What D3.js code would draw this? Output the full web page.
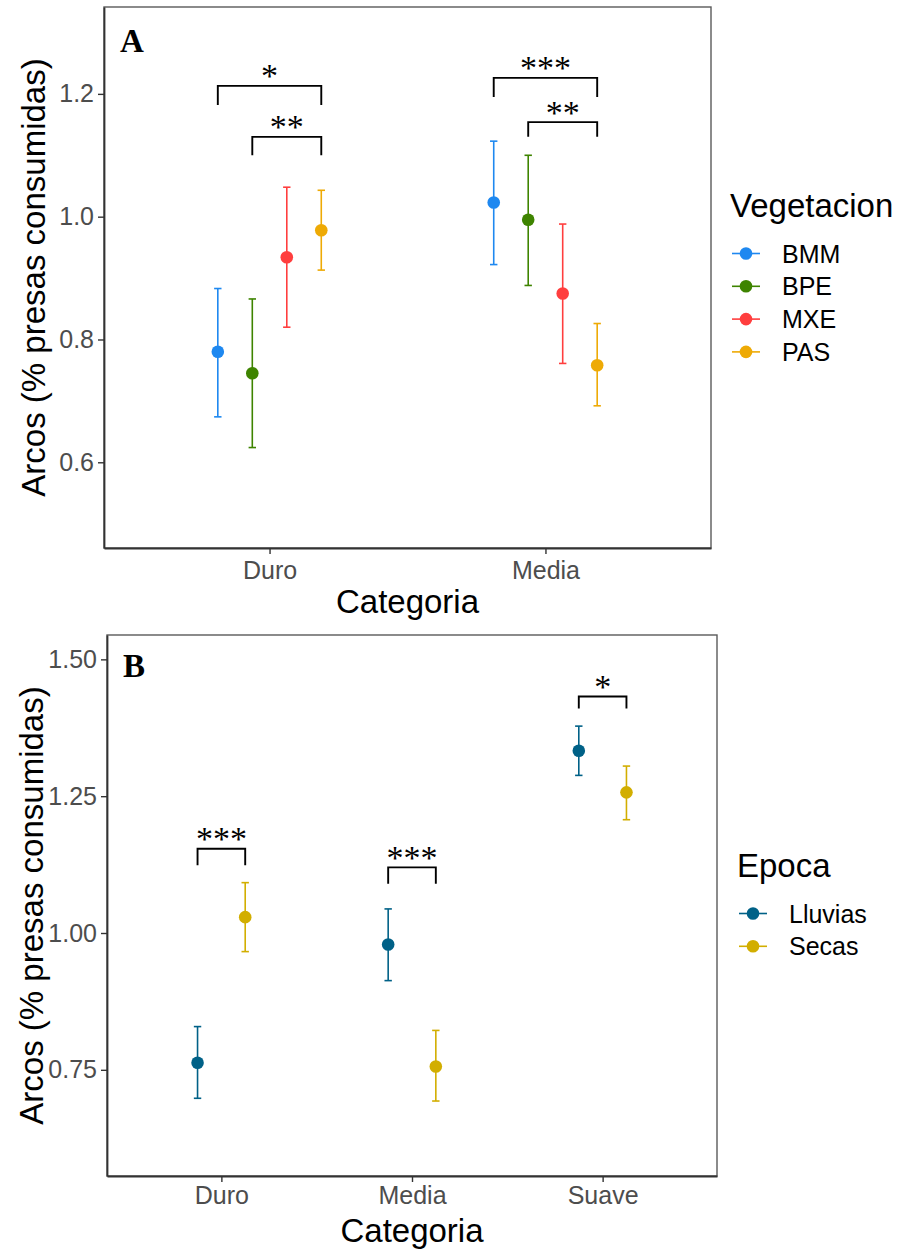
<!DOCTYPE html>
<html>
<head>
<meta charset="utf-8">
<script src="https://cdn.jsdelivr.net/npm/d3@7"></script>
<style>
  body { margin: 0; background: #fff; }
  svg { display: block; }
</style>
</head>
<body>
<div id="chart"></div>
<script>
// page set up
const FRAME_WIDTH = 904;
const FRAME_HEIGHT = 1251;

// panel A data (Vegetacion)
const CATS_A = ["Duro", "Media"];
const GROUPS_A = ["BMM", "BPE", "MXE", "PAS"];
const COLORS_A = ["#1E88F0", "#3E8400", "#FF3E3E", "#EEAA05"];
const MEAN_A = [[0.780, 0.745, 0.934, 0.978], [1.023, 0.995, 0.875, 0.758]];
const LOW_A  = [[0.674, 0.624, 0.820, 0.913], [0.922, 0.888, 0.761, 0.692]];
const HIGH_A = [[0.883, 0.866, 1.048, 1.043], [1.123, 1.100, 0.988, 0.826]];
const TICKS_A = [0.6, 0.8, 1.0, 1.2];
// brackets: [category, group from, group to, top y, tip y, label]
const SIG_A = [
  ["Duro", "BMM", "PAS", 1.213, 1.182, "*"],
  ["Duro", "BPE", "PAS", 1.130, 1.100, "**"],
  ["Media", "BMM", "PAS", 1.226, 1.195, "***"],
  ["Media", "BPE", "PAS", 1.154, 1.130, "**"]
];

// panel B data (Epoca)
const CATS_B = ["Duro", "Media", "Suave"];
const GROUPS_B = ["Lluvias", "Secas"];
const COLORS_B = ["#006187", "#D2AE00"];
const MEAN_B = [[0.763, 1.029], [0.979, 0.756], [1.333, 1.257]];
const LOW_B  = [[0.698, 0.966], [0.913, 0.693], [1.288, 1.207]];
const HIGH_B = [[0.829, 1.092], [1.044, 0.822], [1.378, 1.305]];
const TICKS_B = [0.75, 1.00, 1.25, 1.50];
const SIG_B = [
  ["Duro", "Lluvias", "Secas", 1.154, 1.124, "***"],
  ["Media", "Lluvias", "Secas", 1.120, 1.090, "***"],
  ["Suave", "Lluvias", "Secas", 1.432, 1.410, "*"]
];

const SANS = "'Liberation Sans', Arial, sans-serif";
const SERIF = "'Liberation Serif', 'Times New Roman', serif";

const SVG = d3.select("#chart")
  .append("svg")
  .attr("width", FRAME_WIDTH)
  .attr("height", FRAME_HEIGHT);

// draws one panel
function build_panel(opt) {
  const box = opt.box;
  const W = box.right - box.left;
  const H = box.bottom - box.top;
  const g = SVG.append("g").attr("transform", "translate(" + box.left + "," + box.top + ")");

  // x: discrete with 0.6 expansion, like ggplot
  const X_SCALE = d3.scaleLinear()
    .domain([0.4, opt.cats.length + 0.6])
    .range([0, W]);
  const n = opt.groups.length;
  const dodge = (gi) => (gi - (n - 1) / 2) * (0.5 / n);
  const xOf = (ci, gi) => X_SCALE(ci + 1 + dodge(gi));

  const Y_SCALE = d3.scaleLinear()
    .domain(opt.ydomain)
    .range([H, 0]);

  // error bars + points
  opt.cats.forEach((c, ci) => {
    opt.groups.forEach((grp, gi) => {
      const x = xOf(ci, gi);
      const col = opt.colors[gi];
      g.append("line")
        .attr("x1", x).attr("x2", x)
        .attr("y1", Y_SCALE(opt.low[ci][gi])).attr("y2", Y_SCALE(opt.high[ci][gi]))
        .attr("stroke", col).attr("stroke-width", 1.6);
      [opt.low[ci][gi], opt.high[ci][gi]].forEach((v) => {
        g.append("line")
          .attr("x1", x - 3.7).attr("x2", x + 3.7)
          .attr("y1", Y_SCALE(v)).attr("y2", Y_SCALE(v))
          .attr("stroke", col).attr("stroke-width", 1.6);
      });
      g.append("circle")
        .attr("cx", x).attr("cy", Y_SCALE(opt.mean[ci][gi]))
        .attr("r", 6.3)
        .attr("fill", col);
    });
  });

  // significance brackets
  opt.sig.forEach((s) => {
    const ci = opt.cats.indexOf(s[0]);
    const x1 = xOf(ci, opt.groups.indexOf(s[1]));
    const x2 = xOf(ci, opt.groups.indexOf(s[2]));
    const yTop = Y_SCALE(s[3]);
    const yTip = Y_SCALE(s[4]);
    g.append("path")
      .attr("d", "M" + x1 + "," + yTip + "V" + yTop + "H" + x2 + "V" + yTip)
      .attr("fill", "none").attr("stroke", "#000").attr("stroke-width", 1.9);
    g.append("text")
      .attr("x", (x1 + x2) / 2)
      .attr("y", yTop + 1.5)
      .attr("text-anchor", "middle")
      .attr("font-family", SERIF)
      .attr("font-size", "34px")
      .attr("fill", "#000")
      .text(s[5]);
  });

  // panel border
  g.append("rect")
    .attr("width", W).attr("height", H)
    .attr("fill", "none").attr("stroke", "#5a5a5a").attr("stroke-width", 1.4);

  // Y axis
  const yAxis = g.append("g")
    .call(d3.axisLeft(Y_SCALE).tickValues(opt.yticks).tickFormat(opt.yfmt)
      .tickSize(6).tickSizeOuter(0).tickPadding(4));
  yAxis.select(".domain").attr("stroke", "#333").attr("stroke-width", 1.8);
  yAxis.selectAll(".tick line").attr("stroke", "#333").attr("stroke-width", 1.4);
  yAxis.selectAll(".tick text")
    .attr("font-family", SANS).attr("font-size", "25px").attr("fill", "#4D4D4D");

  // X axis
  const xAxis = g.append("g")
    .attr("transform", "translate(0," + H + ")")
    .call(d3.axisBottom(X_SCALE).tickValues(opt.cats.map((c, i) => i + 1))
      .tickFormat((d) => opt.cats[d - 1]).tickSize(6).tickSizeOuter(0).tickPadding(opt.xpad));
  xAxis.select(".domain").attr("stroke", "#333").attr("stroke-width", 1.8);
  xAxis.selectAll(".tick line").attr("stroke", "#333").attr("stroke-width", 1.4);
  xAxis.selectAll(".tick text")
    .attr("font-family", SANS).attr("font-size", "25px").attr("fill", "#4D4D4D");

  // panel letter
  g.append("text")
    .attr("x", 16).attr("y", opt.letterY)
    .attr("font-family", SERIF).attr("font-weight", "bold").attr("font-size", "33px")
    .attr("fill", "#000")
    .text(opt.letter);

  // axis titles
  SVG.append("text")
    .attr("transform", "translate(" + opt.ytitleX + "," + (box.top + H / 2) + ") rotate(-90)")
    .attr("text-anchor", "middle")
    .attr("font-family", SANS).attr("font-size", "33px").attr("fill", "#000")
    .text("Arcos (% presas consumidas)");
  SVG.append("text")
    .attr("x", box.left + W / 2).attr("y", opt.xtitleY)
    .attr("text-anchor", "middle")
    .attr("font-family", SANS).attr("font-size", "33px").attr("fill", "#000")
    .text("Categoria");

  // legend
  const leg = SVG.append("g").attr("transform", "translate(" + opt.legend.x + "," + opt.legend.y + ")");
  leg.append("text")
    .attr("x", 0).attr("y", 0)
    .attr("font-family", SANS).attr("font-size", "33px").attr("fill", "#000")
    .text(opt.legendTitle);
  opt.groups.forEach((grp, gi) => {
    const ky = opt.legend.first + gi * 32.8;
    leg.append("line")
      .attr("x1", 2).attr("x2", 30).attr("y1", ky).attr("y2", ky)
      .attr("stroke", opt.colors[gi]).attr("stroke-width", 1.6);
    leg.append("circle")
      .attr("cx", 16).attr("cy", ky).attr("r", 6.3).attr("fill", opt.colors[gi]);
    leg.append("text")
      .attr("x", 52).attr("y", ky)
      .attr("dy", "0.36em")
      .attr("font-family", SANS).attr("font-size", "25px").attr("fill", "#000")
      .text(grp);
  });
}

build_panel({
  box: {left: 104, top: 7, right: 711, bottom: 548},
  cats: CATS_A, groups: GROUPS_A, colors: COLORS_A,
  mean: MEAN_A, low: LOW_A, high: HIGH_A, sig: SIG_A,
  ydomain: [0.4604, 1.3415], yticks: TICKS_A, yfmt: d3.format(".1f"),
  letter: "A", letterY: 45, xpad: 7,
  ytitleX: 45, xtitleY: 613,
  legendTitle: "Vegetacion", legend: {x: 730, y: 217, first: 36.5}
});

build_panel({
  box: {left: 107, top: 635, right: 717, bottom: 1176},
  cats: CATS_B, groups: GROUPS_B, colors: COLORS_B,
  mean: MEAN_B, low: LOW_B, high: HIGH_B, sig: SIG_B,
  ydomain: [0.556, 1.5445], yticks: TICKS_B, yfmt: d3.format(".2f"),
  letter: "B", letterY: 42, xpad: 4,
  ytitleX: 43, xtitleY: 1242,
  legendTitle: "Epoca", legend: {x: 737, y: 877, first: 36.5}
});
</script>
</body>
</html>
